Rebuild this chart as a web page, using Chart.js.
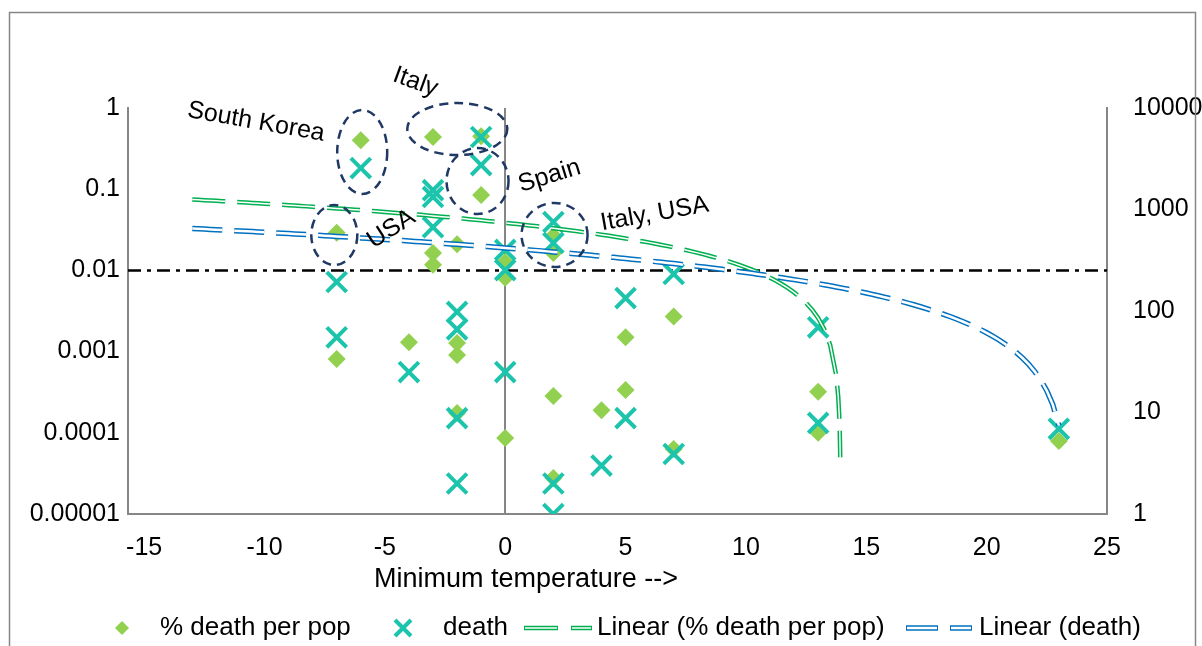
<!DOCTYPE html>
<html lang="en">
<head>
<meta charset="UTF-8" />
<title>Minimum temperature vs deaths</title>
<script src="https://cdn.jsdelivr.net/npm/chart.js"></script>
<style>
  html, body { margin: 0; padding: 0; background: #fff; }
</style>
</head>
<body>
<canvas id="tempChart" width="1202" height="646"></canvas>
<script>
// % death per population (left log axis)
const pctTemp = [-7, -7, -6, -4, -3, -3, -3, -2, -2, -2, -2, -1, -1, 0, 0, 0, 2, 2, 2, 2, 4, 5, 5, 7, 7, 13, 13, 23];
const pctValues = [0.029, 0.00081, 0.40, 0.0013, 0.44, 0.0164, 0.0117, 0.021, 0.00128, 0.00091, 0.000175, 0.45, 0.085,
  0.0127, 0.0081, 0.000086, 0.0265, 0.0164, 0.000284, 0.0000277, 0.00019, 0.0015, 0.000337, 0.0027, 0.000063, 0.00032, 0.0001, 0.000079];

// deaths (right log axis)
const deathTemp = [-7, -7, -6, -4, -3, -3, -3, -2, -2, -2, -2, -1, -1, 0, 0, 0, 2, 2, 2, 2, 4, 5, 5, 7, 7, 13, 13, 23];
const deathValues = [193, 55, 2560, 25, 1550, 1330, 670, 98, 66, 8.8, 2, 5180, 2740, 400, 253, 25, 754, 468, 2, 1,
  3, 134, 8.8, 232, 3.9, 69, 7.9, 6.9];

// linear trendlines (as Excel fits them, drawn on log axes)
const pctTrendSlope = -0.00277, pctTrendIntercept = 0.0386, pctTrendFrom = -13, pctTrendFloor = 0.00005;
const deathTrendSlope = -17.85, deathTrendIntercept = 418, deathTrendFrom = -13, deathTrendTo = 23;

const thresholdPct = 0.01;

// axes
const tempMin = -15.67, tempMax = 25;
const tempTicks = [-15, -10, -5, 0, 5, 10, 15, 20, 25];
const pctTicks = [0.00001, 0.0001, 0.001, 0.01, 0.1, 1];
const pctTickLabels = ['0.00001', '0.0001', '0.001', '0.01', '0.1', '1'];
const deathTicks = [1, 10, 100, 1000, 10000];
const deathTickLabels = ['1', '10', '100', '1000', '10000'];

// circled groups: label, ellipse centre (temp, % death), label centre (temp, % death), label angle
const groupNames = ['South Korea', 'Italy', 'Spain', 'Italy, USA', 'USA'];
const groupTemp = [-5.94, -1.99, -1.15, 2.05, -7.1];
const groupPct = [0.287, 0.551, 0.126, 0.0273, 0.0273];
const groupRadii = [[25, 42], [50, 26], [31, 33], [33, 32], [23, 30]];
const labelTemp = [-10.35, -3.73, 1.84, 6.21, -4.73];
const labelPct = [0.672, 2.09, 0.145, 0.0495, 0.0323];
const labelAngle = [10, 20, -17, -10, -33];

const FONT = 'Liberation Sans, Arial, sans-serif';
const GREEN_MARK = '#92D050';
const TEAL = '#1CC4AC';
const GREEN_LINE = '#00B050';
const BLUE_LINE = '#0070C0';
const NAVY = '#1F3864';
const AXIS_GREY = '#868686';

function trendPoints(slope, intercept, from, to, floor) {
  const pts = [];
  for (let t = from; t <= to + 1e-9; t += 0.25) {
    const v = intercept + slope * t;
    if (v <= floor) break;
    pts.push({ x: t, y: v });
  }
  if (floor) {
    // run the curve down to where it leaves the axis
    const last = pts[pts.length - 1].x;
    const end = (floor - intercept) / slope;
    for (let i = 1; i <= 8; i++) {
      const t = last + (end - last) * (1 - Math.pow(0.5, i));
      pts.push({ x: t, y: intercept + slope * t });
    }
    pts.push({ x: end, y: floor });
  }
  return pts;
}

const pctTrend = trendPoints(pctTrendSlope, pctTrendIntercept, pctTrendFrom, 30, pctTrendFloor);
const deathTrend = trendPoints(deathTrendSlope, deathTrendIntercept, deathTrendFrom, deathTrendTo, 0);

const decorPlugin = {
  id: 'decor',
  afterDatasetsDraw(chart) {
    const { ctx, scales: { x, y } } = chart;
    ctx.save();
    ctx.strokeStyle = NAVY;
    ctx.lineWidth = 2.5;
    ctx.setLineDash([9, 6]);
    groupNames.forEach((name, i) => {
      ctx.beginPath();
      ctx.ellipse(x.getPixelForValue(groupTemp[i]), y.getPixelForValue(groupPct[i]),
        groupRadii[i][0], groupRadii[i][1], 0, 0, Math.PI * 2);
      ctx.stroke();
    });
    ctx.setLineDash([]);
    ctx.fillStyle = '#000';
    ctx.font = '25px ' + FONT;
    ctx.textAlign = 'center';
    ctx.textBaseline = 'middle';
    groupNames.forEach((name, i) => {
      ctx.save();
      ctx.translate(x.getPixelForValue(labelTemp[i]), y.getPixelForValue(labelPct[i]));
      ctx.rotate(labelAngle[i] * Math.PI / 180);
      ctx.fillText(name, 0, 0);
      ctx.restore();
    });
    ctx.restore();
  },
  afterDraw(chart) {
    const ctx = chart.ctx;
    ctx.save();
    // outer chart border
    ctx.strokeStyle = AXIS_GREY;
    ctx.lineWidth = 1.5;
    ctx.strokeRect(9.5, 12.5, 1186, 700);

    ctx.fillStyle = '#000';
    ctx.font = '27px ' + FONT;
    ctx.textBaseline = 'middle';
    ctx.textAlign = 'center';
    ctx.fillText('Minimum temperature -->', 526, 580);

    // legend
    const ly = 628;
    ctx.font = '26px ' + FONT;
    ctx.textAlign = 'left';
    ctx.fillStyle = GREEN_MARK;
    ctx.beginPath();
    ctx.moveTo(122, ly - 7); ctx.lineTo(129, ly); ctx.lineTo(122, ly + 7); ctx.lineTo(115, ly);
    ctx.closePath(); ctx.fill();
    ctx.fillStyle = '#000';
    ctx.fillText('% death per pop', 160, ly);

    ctx.strokeStyle = TEAL; ctx.lineWidth = 4;
    ctx.beginPath();
    ctx.moveTo(395, ly - 8); ctx.lineTo(411, ly + 8);
    ctx.moveTo(411, ly - 8); ctx.lineTo(395, ly + 8);
    ctx.stroke();
    ctx.fillText('death', 443, ly);

    const dbl = (segs, col, outer, inner) => {
      segs.forEach(s => {
        ctx.strokeStyle = col; ctx.lineWidth = outer;
        ctx.beginPath(); ctx.moveTo(s[0], ly); ctx.lineTo(s[1], ly); ctx.stroke();
        ctx.strokeStyle = '#fff'; ctx.lineWidth = inner;
        ctx.beginPath(); ctx.moveTo(s[0] + 1, ly); ctx.lineTo(s[1] - 1, ly); ctx.stroke();
      });
    };
    dbl([[524, 558], [571, 592]], GREEN_LINE, 4.5, 1.5);
    ctx.fillStyle = '#000';
    ctx.fillText('Linear (% death per pop)', 597, ly);
    dbl([[906, 938], [950, 972]], BLUE_LINE, 5.5, 2.5);
    ctx.fillStyle = '#000';
    ctx.fillText('Linear (death)', 979, ly);
    ctx.restore();
  }
};

const ctx = document.getElementById('tempChart').getContext('2d');
new Chart(ctx, {
  type: 'scatter',
  data: {
    datasets: [
      {
        label: 'Linear (death) inner', data: deathTrend, yAxisID: 'y2', showLine: true,
        borderColor: '#fff', borderWidth: 2.5, borderDash: [30, 12], pointRadius: 0, order: 1
      },
      {
        label: 'Linear (death)', data: deathTrend, yAxisID: 'y2', showLine: true,
        borderColor: BLUE_LINE, borderWidth: 5.5, borderDash: [30, 12], pointRadius: 0, order: 2
      },
      {
        label: 'Linear (% death per pop) inner', data: pctTrend, yAxisID: 'y', showLine: true,
        borderColor: '#fff', borderWidth: 1.5, borderDash: [33, 12], pointRadius: 0, order: 3
      },
      {
        label: 'Linear (% death per pop)', data: pctTrend, yAxisID: 'y', showLine: true,
        borderColor: GREEN_LINE, borderWidth: 4.5, borderDash: [33, 12], pointRadius: 0, order: 4
      },
      {
        label: 'death', yAxisID: 'y2',
        data: deathTemp.map((t, i) => ({ x: t, y: deathValues[i] })),
        pointStyle: 'crossRot', pointRadius: 14, pointBorderWidth: 4,
        borderColor: TEAL, backgroundColor: TEAL, order: 5
      },
      {
        label: '% death per pop', yAxisID: 'y',
        data: pctTemp.map((t, i) => ({ x: t, y: pctValues[i] })),
        pointStyle: 'rectRot', pointRadius: 9, pointBorderWidth: 0,
        backgroundColor: GREEN_MARK, borderColor: GREEN_MARK, order: 6
      },
      {
        label: '0.01 line', yAxisID: 'y', showLine: true,
        data: [{ x: tempMin, y: thresholdPct }, { x: tempMax, y: thresholdPct }],
        borderColor: '#000', borderWidth: 2.5, borderDash: [13, 6, 4, 6], pointRadius: 0, order: 7
      }
    ]
  },
  options: {
    responsive: false,
    animation: false,
    devicePixelRatio: 1,
    layout: { padding: { top: 108, left: 0, right: 0, bottom: 0 } },
    plugins: { legend: { display: false }, tooltip: { enabled: false } },
    scales: {
      x: {
        type: 'linear', min: tempMin, max: tempMax,
        afterBuildTicks: s => { s.ticks = tempTicks.map(v => ({ value: v })); },
        afterFit: s => { s.height = 132; },
        grid: {
          drawTicks: false, lineWidth: 2,
          color: c => (c.tick && c.tick.value === 0 ? AXIS_GREY : 'rgba(0,0,0,0)')
        },
        border: { display: true, color: AXIS_GREY, width: 2 },
        ticks: { padding: 19, color: '#000', font: { family: FONT, size: 25 } }
      },
      y: {
        type: 'logarithmic', position: 'left', min: 0.00001, max: 1,
        afterBuildTicks: s => { s.ticks = pctTicks.map(v => ({ value: v })); },
        afterFit: s => { s.width = 128; },
        grid: { display: false, drawTicks: false },
        border: { display: true, color: AXIS_GREY, width: 2 },
        ticks: {
          padding: 8, color: '#000', font: { family: FONT, size: 25 },
          callback: (v, i) => pctTickLabels[i]
        }
      },
      y2: {
        type: 'logarithmic', position: 'right', min: 1, max: 10000,
        afterBuildTicks: s => { s.ticks = deathTicks.map(v => ({ value: v })); },
        afterFit: s => { s.width = 95; },
        grid: { display: false, drawTicks: false },
        border: { display: true, color: AXIS_GREY, width: 2 },
        ticks: {
          padding: 26, color: '#000', font: { family: FONT, size: 25 },
          callback: (v, i) => deathTickLabels[i]
        }
      }
    }
  },
  plugins: [decorPlugin]
});
</script>
</body>
</html>
